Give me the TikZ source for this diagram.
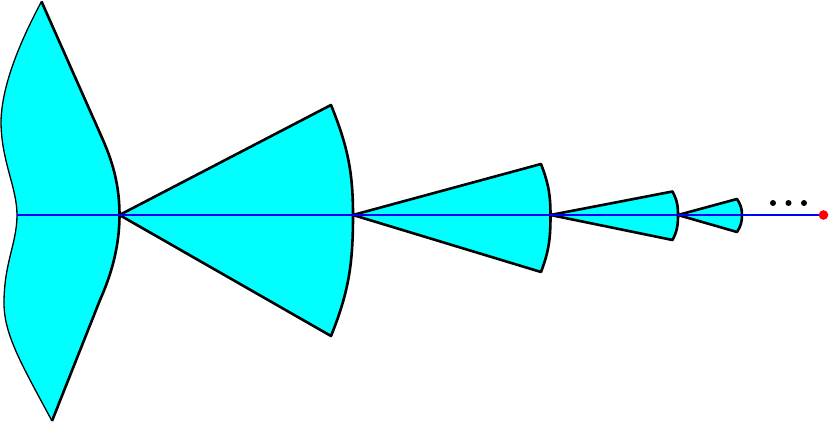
\documentclass[tikz,border=0pt]{standalone}
\usepackage{tikz}
\usetikzlibrary{calc}

\definecolor{aqua}{RGB}{0,255,255}
\definecolor{pureblue}{RGB}{0,0,255}
\definecolor{purered}{RGB}{255,0,0}

\begin{document}
\begin{tikzpicture}[x=1pt,y=1pt,line join=round,semithick]
		\tikzstyle{cone}=[fill=aqua,draw=black,line width=2.6pt]
		\tikzstyle{axis}=[draw=pureblue,line width=2.3pt]
		\tikzstyle{dot}=[fill=black]
		\useasboundingbox (0,0) rectangle (830,423);
		
		\coordinate (v0)  at (17,208);
		\coordinate (v1)  at (119.5,208);
		\coordinate (v2)  at (353,208);
		\coordinate (v3)  at (550.5,208);
		\coordinate (v4)  at (678,208);
		\coordinate (v5)  at (742,208);
		\coordinate (tip) at (823.5,208);
		
		% first cone, wavy back
		\fill[aqua] (41.5,421.5) -- (103,283) .. controls (114,258) and (119.5,235) .. (v1)
		.. controls (119.5,180) and (113,152) .. (100,123) -- (52,2)
		.. controls (22,58) and (4,88) .. (4,120) .. controls (4,160) and (17,180) .. (v0)
		.. controls (17,236) and (1,262) .. (1,302) .. controls (2,340) and (22,385) .. (41.5,421.5);
		\draw[line width=1.3pt] (52,2)
		.. controls (22,58) and (4,88) .. (4,120) .. controls (4,160) and (17,180) .. (v0)
		.. controls (17,236) and (1,262) .. (1,302) .. controls (2,340) and (22,385) .. (41.5,421.5);
		\draw[line width=2.6pt] (41.5,421.5) -- (103,283) .. controls (114,258) and (119.5,235) .. (v1)
		.. controls (119.5,180) and (113,152) .. (100,123) -- (52,2);
		
		% the other cones
		\draw[cone] (v1) -- (331,318) to[out=-68,in=90] (v2) to[out=-90,in=68] (331,87) -- cycle;
		\draw[cone] (v2) -- (541,259) to[out=-69,in=90] (v3) to[out=-90,in=69] (541,151) -- cycle;
		\draw[cone] (v3) -- (672.5,231.5) to[out=-62,in=90] (v4) to[out=-90,in=62] (672.5,183) -- cycle;
		\draw[cone] (v4) -- (737,224) to[out=-57,in=90] (v5) to[out=-90,in=57] (737,191) -- cycle;
		
		\draw[axis] (v0) -- (tip);
		\fill[purered] (tip) circle (4.8);
		
		% dots
		\fill[dot] (773,220) circle (3);
		\fill[dot] (788.5,220) circle (3);
		\fill[dot] (804,220) circle (3);
\end{tikzpicture}
\end{document}
